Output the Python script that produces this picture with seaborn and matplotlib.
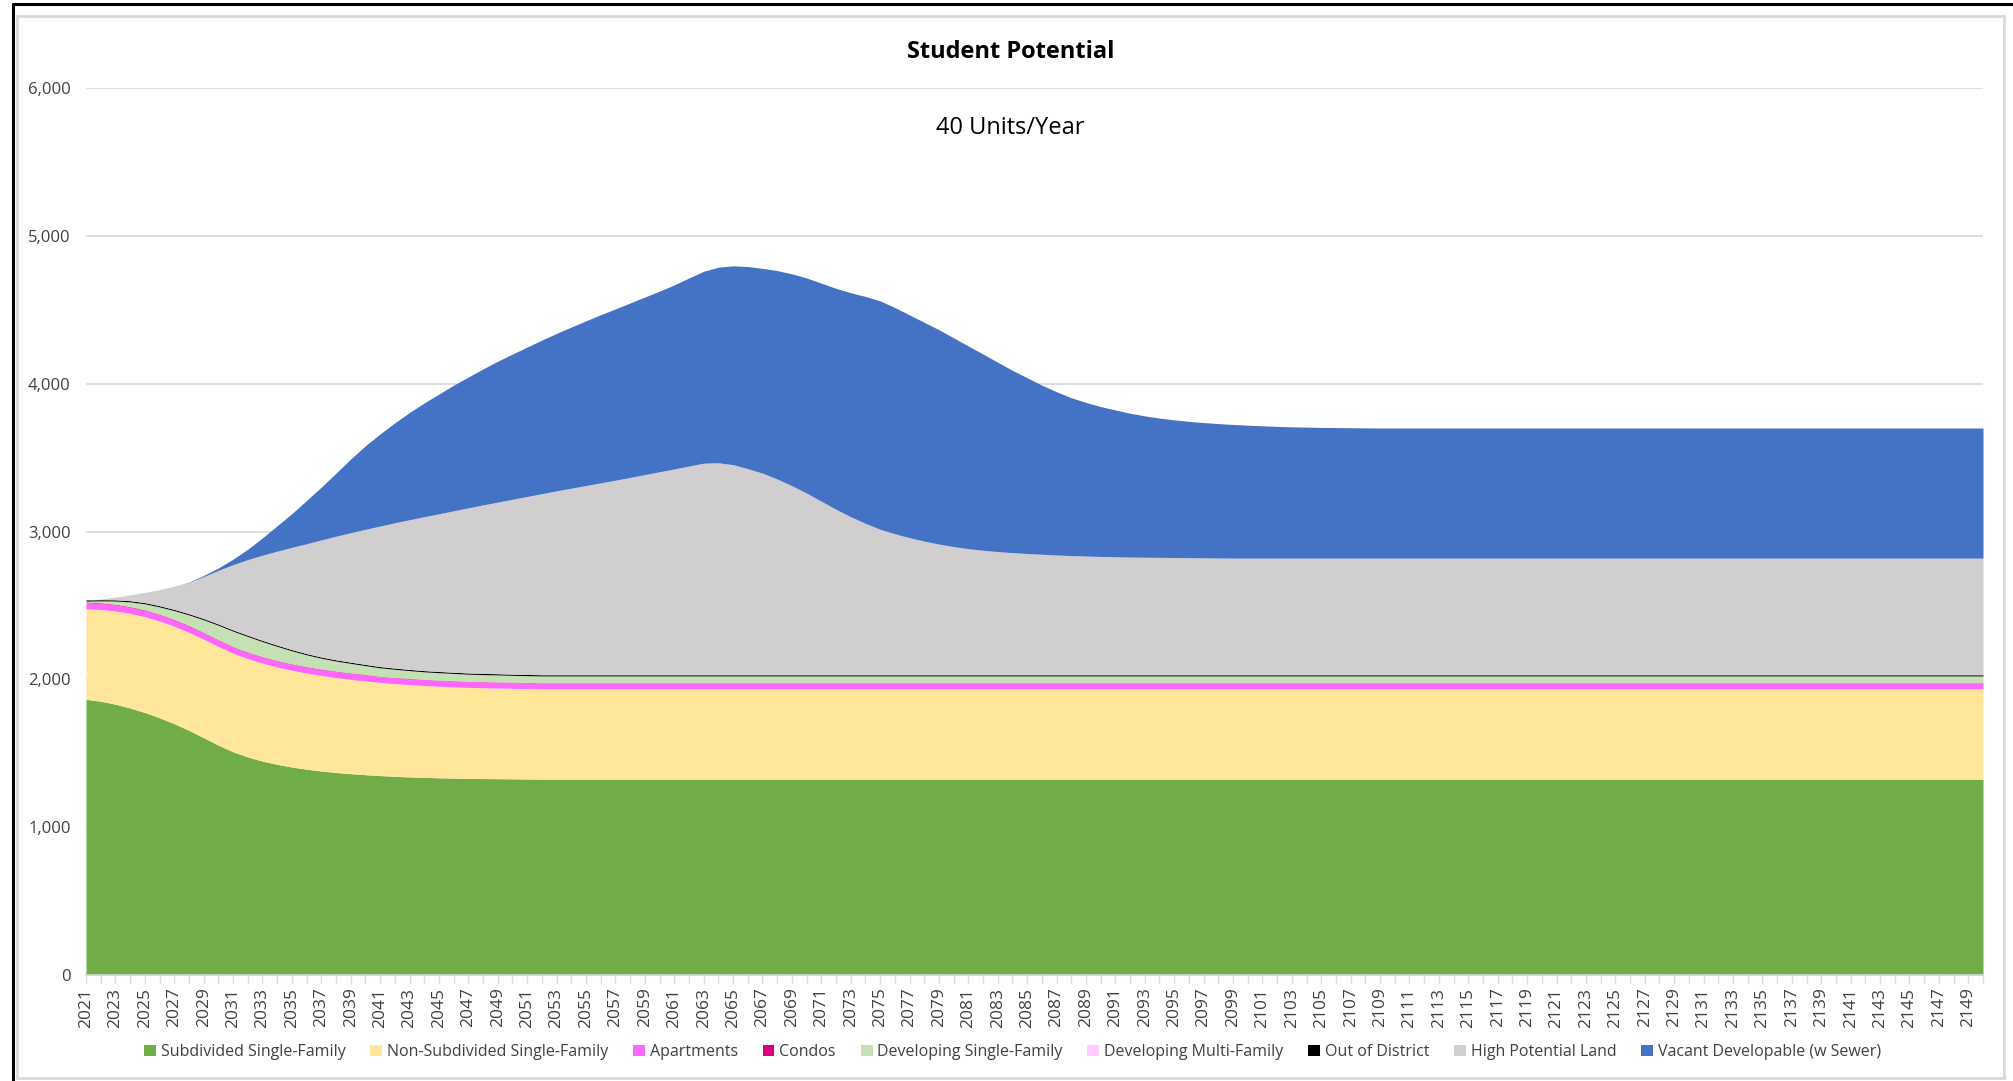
import numpy as np
import matplotlib
matplotlib.use("Agg")
import matplotlib.pyplot as plt
import seaborn as sns
from matplotlib.patches import Rectangle
from matplotlib.lines import Line2D
from matplotlib.ticker import FuncFormatter, MultipleLocator

# years on the category axis
years = list(range(2021, 2151))

# stacked values per year (2021 ... 2150, 10 per line)
subdivided_sf = [
    1865, 1852, 1832, 1806, 1776, 1740, 1700, 1655, 1605, 1555,
    1510, 1475, 1447, 1425, 1407, 1392, 1380, 1370, 1362, 1355,
    1349, 1344, 1340, 1337, 1334, 1332, 1330, 1329, 1328, 1327,
    1326, 1325, 1325, 1325, 1325, 1325, 1325, 1325, 1325, 1325,
    1325, 1325, 1325, 1325, 1325, 1325, 1325, 1325, 1325, 1325,
    1325, 1325, 1325, 1325, 1325, 1325, 1325, 1325, 1325, 1325,
    1325, 1325, 1325, 1325, 1325, 1325, 1325, 1325, 1325, 1325,
    1325, 1325, 1325, 1325, 1325, 1325, 1325, 1325, 1325, 1325,
    1325, 1325, 1325, 1325, 1325, 1325, 1325, 1325, 1325, 1325,
    1325, 1325, 1325, 1325, 1325, 1325, 1325, 1325, 1325, 1325,
    1325, 1325, 1325, 1325, 1325, 1325, 1325, 1325, 1325, 1325,
    1325, 1325, 1325, 1325, 1325, 1325, 1325, 1325, 1325, 1325,
    1325, 1325, 1325, 1325, 1325, 1325, 1325, 1325, 1325, 1325,
]
non_subdivided_sf = [
    612, 620, 630, 640, 648, 654, 659, 663, 666, 667,
    667, 665, 662, 658, 654, 650, 646, 642, 638, 634,
    630, 627, 624, 621, 619, 617, 615, 614, 613, 612,
    611, 610, 610, 610, 610, 610, 610, 610, 610, 610,
    610, 610, 610, 610, 610, 610, 610, 610, 610, 610,
    610, 610, 610, 610, 610, 610, 610, 610, 610, 610,
    610, 610, 610, 610, 610, 610, 610, 610, 610, 610,
    610, 610, 610, 610, 610, 610, 610, 610, 610, 610,
    610, 610, 610, 610, 610, 610, 610, 610, 610, 610,
    610, 610, 610, 610, 610, 610, 610, 610, 610, 610,
    610, 610, 610, 610, 610, 610, 610, 610, 610, 610,
    610, 610, 610, 610, 610, 610, 610, 610, 610, 610,
    610, 610, 610, 610, 610, 610, 610, 610, 610, 610,
]
apartments = [
    42, 42, 42, 42, 42, 42, 42, 42, 42, 42,
    42, 42, 41, 41, 41, 41, 41, 41, 41, 41,
    40, 40, 40, 40, 40, 40, 40, 40, 40, 40,
    40, 40, 40, 40, 40, 40, 40, 40, 40, 40,
    40, 40, 40, 40, 40, 40, 40, 40, 40, 40,
    40, 40, 40, 40, 40, 40, 40, 40, 40, 40,
    40, 40, 40, 40, 40, 40, 40, 40, 40, 40,
    40, 40, 40, 40, 40, 40, 40, 40, 40, 40,
    40, 40, 40, 40, 40, 40, 40, 40, 40, 40,
    40, 40, 40, 40, 40, 40, 40, 40, 40, 40,
    40, 40, 40, 40, 40, 40, 40, 40, 40, 40,
    40, 40, 40, 40, 40, 40, 40, 40, 40, 40,
    40, 40, 40, 40, 40, 40, 40, 40, 40, 40,
]
condos = [
    4, 4, 4, 4, 4, 4, 4, 4, 4, 4,
    3, 3, 3, 3, 3, 3, 3, 3, 3, 3,
    2, 2, 2, 2, 2, 2, 2, 2, 2, 2,
    2, 2, 2, 2, 2, 2, 2, 2, 2, 2,
    2, 2, 2, 2, 2, 2, 2, 2, 2, 2,
    2, 2, 2, 2, 2, 2, 2, 2, 2, 2,
    2, 2, 2, 2, 2, 2, 2, 2, 2, 2,
    2, 2, 2, 2, 2, 2, 2, 2, 2, 2,
    2, 2, 2, 2, 2, 2, 2, 2, 2, 2,
    2, 2, 2, 2, 2, 2, 2, 2, 2, 2,
    2, 2, 2, 2, 2, 2, 2, 2, 2, 2,
    2, 2, 2, 2, 2, 2, 2, 2, 2, 2,
    2, 2, 2, 2, 2, 2, 2, 2, 2, 2,
]
developing_sf = [
    6, 13, 22, 32, 41, 50, 60, 72, 86, 98,
    104, 105, 102, 96, 88, 80, 73, 68, 64, 60,
    57, 55, 53, 51, 50, 49, 48, 47, 47, 46,
    46, 46, 46, 46, 46, 46, 46, 46, 46, 46,
    46, 46, 46, 46, 46, 46, 46, 46, 46, 46,
    46, 46, 46, 46, 46, 46, 46, 46, 46, 46,
    46, 46, 46, 46, 46, 46, 46, 46, 46, 46,
    46, 46, 46, 46, 46, 46, 46, 46, 46, 46,
    46, 46, 46, 46, 46, 46, 46, 46, 46, 46,
    46, 46, 46, 46, 46, 46, 46, 46, 46, 46,
    46, 46, 46, 46, 46, 46, 46, 46, 46, 46,
    46, 46, 46, 46, 46, 46, 46, 46, 46, 46,
    46, 46, 46, 46, 46, 46, 46, 46, 46, 46,
]
developing_mf = [
    0, 0, 0, 0, 0, 0, 0, 0, 0, 0,
    0, 0, 0, 0, 0, 0, 0, 0, 0, 0,
    0, 0, 0, 0, 0, 0, 0, 0, 0, 0,
    0, 0, 0, 0, 0, 0, 0, 0, 0, 0,
    0, 0, 0, 0, 0, 0, 0, 0, 0, 0,
    0, 0, 0, 0, 0, 0, 0, 0, 0, 0,
    0, 0, 0, 0, 0, 0, 0, 0, 0, 0,
    0, 0, 0, 0, 0, 0, 0, 0, 0, 0,
    0, 0, 0, 0, 0, 0, 0, 0, 0, 0,
    0, 0, 0, 0, 0, 0, 0, 0, 0, 0,
    0, 0, 0, 0, 0, 0, 0, 0, 0, 0,
    0, 0, 0, 0, 0, 0, 0, 0, 0, 0,
    0, 0, 0, 0, 0, 0, 0, 0, 0, 0,
]
out_of_district = [
    8, 8, 8, 8, 8, 8, 8, 8, 8, 8,
    8, 8, 8, 8, 8, 8, 8, 8, 8, 8,
    8, 8, 8, 8, 8, 8, 8, 8, 8, 8,
    8, 8, 8, 8, 8, 8, 8, 8, 8, 8,
    8, 8, 8, 8, 8, 8, 8, 8, 8, 8,
    8, 8, 8, 8, 8, 8, 8, 8, 8, 8,
    8, 8, 8, 8, 8, 8, 8, 8, 8, 8,
    8, 8, 8, 8, 8, 8, 8, 8, 8, 8,
    8, 8, 8, 8, 8, 8, 8, 8, 8, 8,
    8, 8, 8, 8, 8, 8, 8, 8, 8, 8,
    8, 8, 8, 8, 8, 8, 8, 8, 8, 8,
    8, 8, 8, 8, 8, 8, 8, 8, 8, 8,
    8, 8, 8, 8, 8, 8, 8, 8, 8, 8,
]
high_potential_land = [
    0, 5, 18, 39, 69, 109, 157, 211, 284, 363,
    442, 512, 577, 636, 692, 743, 792, 836, 876, 914,
    951, 983, 1013, 1041, 1067, 1092, 1117, 1140, 1161, 1183,
    1204, 1225, 1244, 1262, 1280, 1298, 1316, 1335, 1354, 1373,
    1392, 1412, 1431, 1434, 1421, 1394, 1364, 1324, 1279, 1229,
    1174, 1119, 1069, 1024, 984, 954, 927, 904, 884, 867,
    853, 842, 833, 826, 820, 815, 810, 806, 803, 800,
    798, 796, 795, 794, 793, 792, 791, 790, 789, 789,
    789, 789, 789, 789, 789, 789, 789, 789, 789, 789,
    789, 789, 789, 789, 789, 789, 789, 789, 789, 789,
    789, 789, 789, 789, 789, 789, 789, 789, 789, 789,
    789, 789, 789, 789, 789, 789, 789, 789, 789, 789,
    789, 789, 789, 789, 789, 789, 789, 789, 789, 789,
]
vacant_developable = [
    0, 0, 0, 0, 0, 0, 0, 2, 8, 16,
    37, 70, 117, 172, 228, 293, 357, 427, 498, 565,
    623, 676, 725, 770, 810, 850, 885, 920, 953, 982,
    1011, 1039, 1065, 1090, 1114, 1137, 1159, 1180, 1201, 1222,
    1245, 1272, 1298, 1323, 1345, 1367, 1385, 1410, 1433, 1455,
    1475, 1495, 1515, 1535, 1545, 1530, 1507, 1480, 1450, 1412,
    1371, 1327, 1281, 1233, 1189, 1144, 1104, 1068, 1039, 1014,
    993, 973, 956, 942, 931, 922, 915, 909, 904, 899,
    895, 891, 888, 886, 884, 883, 882, 881, 880, 880,
    880, 880, 880, 880, 880, 880, 880, 880, 880, 880,
    880, 880, 880, 880, 880, 880, 880, 880, 880, 880,
    880, 880, 880, 880, 880, 880, 880, 880, 880, 880,
    880, 880, 880, 880, 880, 880, 880, 880, 880, 880,
]

labels = ["Subdivided Single-Family", "Non-Subdivided Single-Family", "Apartments",
          "Condos", "Developing Single-Family", "Developing Multi-Family",
          "Out of District", "High Potential Land", "Vacant Developable (w Sewer)"]
colors = ["#70AD47", "#FFE699", "#FF66FF", "#DA0080", "#C5E0B4",
          "#FFCCFF", "#000000", "#D0CECE", "#4472C4"]

series = [subdivided_sf, non_subdivided_sf, apartments, condos, developing_sf,
          developing_mf, out_of_district, high_potential_land, vacant_developable]
for s in series:
    assert len(s) == len(years)

sns.set_theme(style="white")
plt.rcParams['font.family'] = ['Open Sans', 'DejaVu Sans']

fig = plt.figure(figsize=(20.13, 10.81), dpi=100)
ax = fig.add_axes([86 / 2013, 1 - 975 / 1081, (1983 - 86) / 2013, (975 - 88) / 1081])

ax.stackplot(years, *series, labels=labels, colors=colors, linewidth=0)

ax.set_xlim(2021, 2150)
ax.set_ylim(0, 6000)
ax.yaxis.set_major_locator(MultipleLocator(1000))
ax.yaxis.set_major_formatter(FuncFormatter(lambda v, p: f"{int(v):,}"))
ax.grid(axis="y", color="#D9D9D9", linewidth=1.2, zorder=0)
ax.set_axisbelow(True)

ax.set_xticks(years[::2])
ax.set_xticklabels([str(y) for y in years[::2]], rotation=90)
ax.set_xticks(years, minor=True)
ax.tick_params(axis="x", which="both", direction="out", length=6, width=1,
               color="#D9D9D9", labelsize=12.5, labelcolor="#404040", pad=3, bottom=True)
ax.tick_params(axis="y", length=0, labelsize=12, labelcolor="#404040", pad=11)

sns.despine(ax=ax, left=True, top=True, right=True)
ax.spines["bottom"].set_color("#D9D9D9")
ax.spines["bottom"].set_linewidth(1.2)

fig.text(0.502, 1 - 52 / 1081, "Student Potential", ha="center", va="center",
         fontsize=17, fontweight="bold", color="black")
fig.text(0.502, 1 - 128 / 1081, "40 Units/Year", ha="center", va="center",
         fontsize=17, color="black")

leg = fig.legend(loc="center", bbox_to_anchor=(0.503, 1 - 1052 / 1081), ncol=9,
                 frameon=False, fontsize=11.5, handlelength=0.75, handleheight=0.75,
                 handletextpad=0.3, columnspacing=1.55, labelcolor="#404040")

# chart border (light grey) and the black screenshot frame
fig.patches.append(Rectangle((17 / 2013, 1 - 1078 / 1081), (2004 - 17) / 2013, (1078 - 16) / 1081,
                             transform=fig.transFigure, fill=False, edgecolor="#D9D9D9", linewidth=2))
fig.lines.append(Line2D([13 / 2013, 13 / 2013], [0, 1 - 4 / 1081], transform=fig.transFigure,
                        color="black", linewidth=2.2))
fig.lines.append(Line2D([13 / 2013, 1], [1 - 4 / 1081, 1 - 4 / 1081], transform=fig.transFigure,
                        color="black", linewidth=2.2))

fig.savefig("out.png", dpi=100, facecolor="white")
